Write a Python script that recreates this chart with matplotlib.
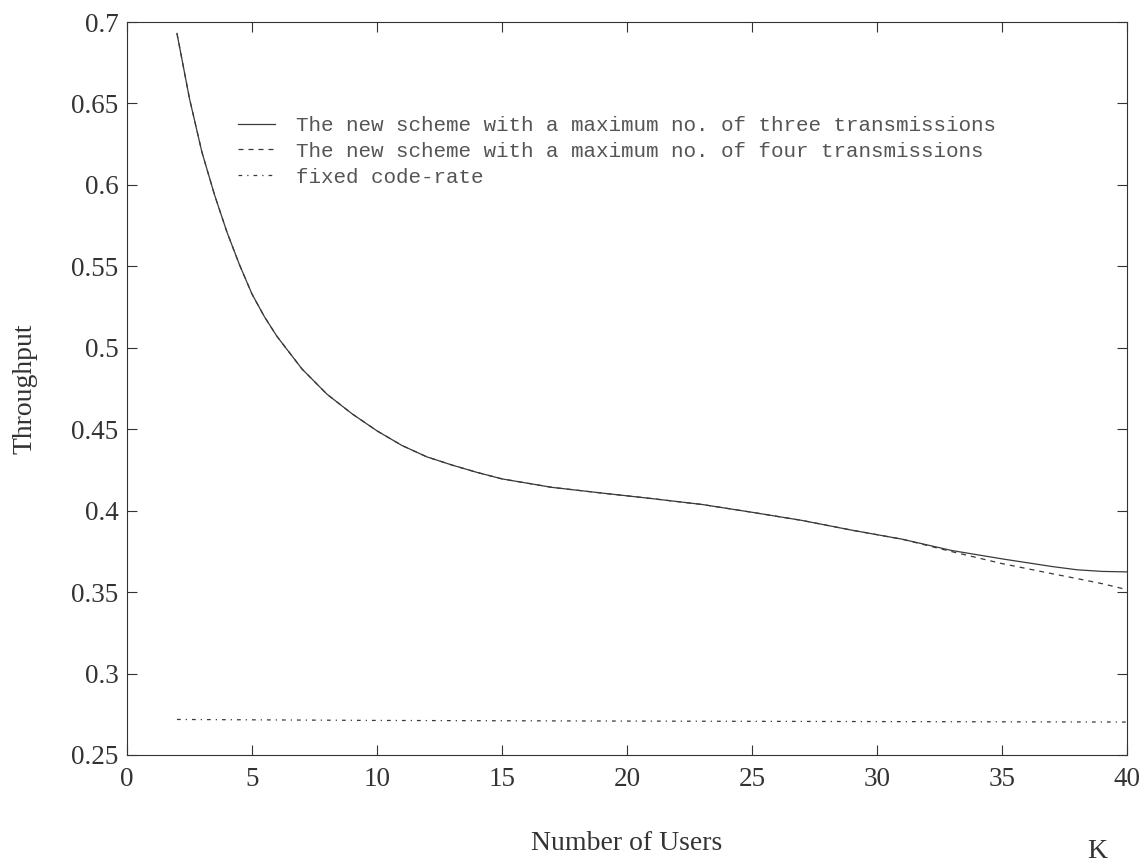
import numpy as np
import matplotlib
matplotlib.use('Agg')
import matplotlib.pyplot as plt

# --- Data ---
usuarios = [2, 2.5, 3, 3.5, 4, 4.5, 5, 5.5, 6, 7, 8, 9, 10, 11, 12, 13, 14, 15, 17, 19, 21, 23, 25, 27, 29, 31,
            33, 35, 37, 38, 39, 40]
tres_tx = [0.693, 0.653, 0.620, 0.594, 0.571, 0.551, 0.533, 0.519, 0.507, 0.487, 0.4715, 0.4595, 0.449, 0.440,
           0.433, 0.428, 0.4235, 0.4195, 0.4143, 0.4108, 0.4074, 0.4038, 0.399, 0.394, 0.388, 0.3825,
           0.3755, 0.3704, 0.3657, 0.3637, 0.3627, 0.3624]
cuatro_tx = [0.693, 0.653, 0.620, 0.594, 0.571, 0.551, 0.533, 0.519, 0.507, 0.487, 0.4715, 0.4595, 0.449, 0.440,
             0.433, 0.428, 0.4235, 0.4195, 0.4143, 0.4108, 0.4074, 0.4038, 0.399, 0.394, 0.388, 0.3825,
             0.3748, 0.3675, 0.3613, 0.3583, 0.3552, 0.3515]
usuarios_fijo = [2, 10, 20, 30, 40]
tasa_fija = [0.2718, 0.2712, 0.2708, 0.2705, 0.2702]

etiquetas = ['The new scheme with a maximum no. of three transmissions',
             'The new scheme with a maximum no. of four transmissions',
             'fixed code-rate']

# --- Figure ---
fig = plt.figure(figsize=(11.46, 8.64), dpi=100)
ax = fig.add_axes([0.1108, 0.1262, 0.8726, 0.8483])

color_linea = '#3a3a3a'
ax.plot(usuarios, tres_tx, color=color_linea, lw=0.9, label=etiquetas[0])
ax.plot(usuarios, cuatro_tx, color=color_linea, lw=0.9, ls=(0, (4, 4)), label=etiquetas[1])
ax.plot(usuarios_fijo, tasa_fija, color=color_linea, lw=0.9, ls=(0, (3, 4, 1, 4)), label=etiquetas[2])

ax.set_xlim(0, 40)
ax.set_ylim(0.25, 0.7)
ax.set_xticks(np.arange(0, 41, 5))
ax.set_yticks([0.25, 0.3, 0.35, 0.4, 0.45, 0.5, 0.55, 0.6, 0.65, 0.7])
ax.set_yticklabels(['0.25', '0.3', '0.35', '0.4', '0.45', '0.5', '0.55', '0.6', '0.65', '0.7'])

fuente = 'Liberation Serif'
ax.tick_params(direction='in', length=7, width=0.8, top=True, right=True, colors='#333333',
               labelsize=19.5)
ax.tick_params(axis='x', pad=9)
ax.tick_params(axis='y', pad=6)
for lbl in ax.get_xticklabels() + ax.get_yticklabels():
    lbl.set_family(fuente)
for s in ax.spines.values():
    s.set_linewidth(0.8)
    s.set_color('#333333')

ax.set_xlabel('Number of Users', family=fuente, fontsize=20, color='#333333', labelpad=28)
ax.set_ylabel('Throughput', family=fuente, fontsize=20, color='#333333', labelpad=24)
fig.text(1097 / 1146, 1 - 852 / 864, 'K', family=fuente, fontsize=20, color='#333333',
         ha='center', va='center')

leg = ax.legend(loc='upper left', bbox_to_anchor=(0.111, 0.872), frameon=False,
                prop={'family': 'Liberation Mono', 'size': 15}, handlelength=1.8,
                handletextpad=1.0, labelspacing=0.33, borderpad=0, borderaxespad=0)
for t in leg.get_texts():
    t.set_color('#555555')

fig.savefig('out.png', dpi=100, facecolor='white')
